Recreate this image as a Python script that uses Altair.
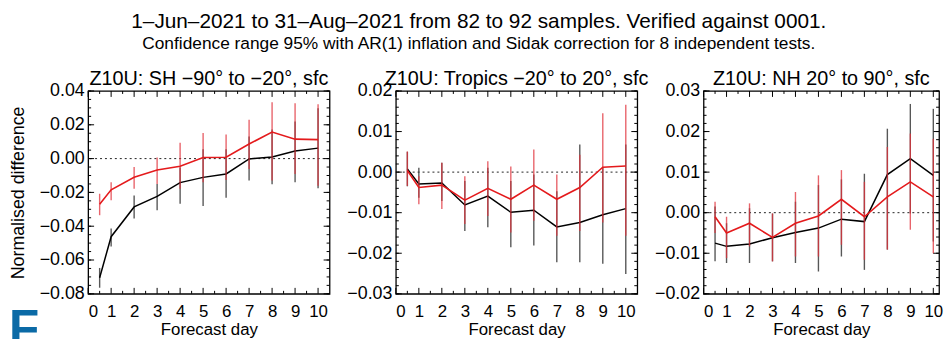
import altair as alt
import pandas as pd

FONT = "Liberation Sans"

main_title = "1–Jun–2021 to 31–Aug–2021 from 82 to 92 samples. Verified against 0001."
sub_title = "Confidence range 95% with AR(1) inflation and Sidak correction for 8 independent tests."

days = [0.5, 1, 2, 3, 4, 5, 6, 7, 8, 9, 10]

# SH panel
sh_red = [-0.027, -0.0185, -0.0111, -0.0068, -0.0045, 0.0006, 0.0008, 0.0086, 0.0157, 0.0115, 0.0112]
sh_red_hi = [-0.0208, -0.014, -0.0049, 0.0006, 0.0094, 0.0152, 0.0143, 0.023, 0.0333, 0.0327, 0.0322]
sh_red_lo = [-0.0335, -0.0247, -0.0179, -0.015, -0.0179, -0.014, -0.0126, -0.0062, -0.013, -0.0091, -0.016]
sh_blk = [-0.0705, -0.0462, -0.0286, -0.0224, -0.0142, -0.0111, -0.0091, -0.0002, 0.001, 0.0045, 0.0062]
sh_blk_hi = [-0.0647, -0.0413, -0.0218, -0.015, -0.0053, 0.0055, 0.0055, 0.013, 0.0172, 0.022, 0.0298]
sh_blk_lo = [-0.0764, -0.052, -0.0354, -0.0306, -0.0267, -0.028, -0.0232, -0.013, -0.0152, -0.014, -0.0175]

# Tropics panel
tr_red = [0.0004, -0.0038, -0.0032, -0.0069, -0.004, -0.0067, -0.0032, -0.0067, -0.0038, 0.0012, 0.0015]
tr_red_hi = [0.0051, -0.001, 0.0023, -0.001, 0.0027, 0.0014, 0.0056, -0.0006, 0.0043, 0.0145, 0.0166]
tr_red_lo = [-0.0034, -0.0079, -0.0091, -0.0128, -0.0108, -0.0149, -0.012, -0.0157, -0.0145, -0.0124, -0.0157]
tr_blk = [0.0008, -0.0029, -0.0027, -0.0081, -0.0059, -0.0099, -0.0094, -0.0135, -0.0124, -0.0105, -0.009]
tr_blk_hi = [0.005, 0.0011, 0.0023, -0.0022, 0.0011, -0.0022, -0.0006, -0.0047, 0.0068, 0.0011, 0.0068]
tr_blk_lo = [-0.0035, -0.0063, -0.0071, -0.0145, -0.0136, -0.0185, -0.0181, -0.0222, -0.0222, -0.0226, -0.0251]

# NH panel
nh_red = [-0.001, -0.005, -0.0026, -0.0061, -0.0026, -0.0008, 0.0033, -0.001, 0.0039, 0.0076, 0.0039]
nh_red_hi = [0.0027, -0.001, 0.0023, -0.0002, 0.0051, 0.0092, 0.0105, 0.0076, 0.0162, 0.0195, 0.0182]
nh_red_lo = [-0.005, -0.0112, -0.0083, -0.012, -0.0108, -0.0108, -0.0079, -0.0116, -0.0091, -0.0042, -0.01]
nh_blk = [-0.0075, -0.0083, -0.0077, -0.0062, -0.0049, -0.0038, -0.0016, -0.0022, 0.0094, 0.0133, 0.0092]
nh_blk_hi = [0.0015, -0.0026, 0.0011, -0.0002, 0.0027, 0.0068, 0.0082, 0.0096, 0.0207, 0.0268, 0.0256]
nh_blk_lo = [-0.012, -0.0124, -0.0124, -0.012, -0.0124, -0.0145, -0.0108, -0.0141, -0.0091, -0.0002, -0.0071]

x_major = [0, 1, 2, 3, 4, 5, 6, 7, 8, 9, 10]
x_minor = [0.5, 1.5, 2.5, 3.5, 4.5, 5.5, 6.5, 7.5, 8.5, 9.5]

sh_y_major = [-0.08, -0.06, -0.04, -0.02, 0.0, 0.02, 0.04]
tr_y_major = [-0.03, -0.02, -0.01, 0.0, 0.01, 0.02]
nh_y_major = [-0.02, -0.01, 0.0, 0.01, 0.02, 0.03]

HEIGHT = 205


def panel(title, red, rlo, rhi, blk, blo, bhi, ymajor, yminor_step, xmax, width, ytitle):
    df = pd.DataFrame({"day": days, "red": red, "rlo": rlo, "rhi": rhi,
                       "blk": blk, "blo": blo, "bhi": bhi})
    ydom = [ymajor[0], ymajor[-1]]
    xs = alt.Scale(domain=[0, xmax], nice=False, zero=False)
    ys = alt.Scale(domain=ydom, nice=False, zero=False)
    xaxis = alt.Axis(values=x_major, format="d", title="Forecast day")
    yaxis = alt.Axis(values=ymajor, format=".2f", title=ytitle)

    X = alt.X("day:Q", scale=xs, axis=xaxis)
    base = alt.Chart(df)

    blk_bars = base.mark_rule(color="#3a3a3a", strokeWidth=1.4, opacity=0.85).encode(
        x=X, y=alt.Y("blo:Q", scale=ys, axis=yaxis), y2="bhi:Q")
    blk_line = base.mark_line(color="#000000", strokeWidth=1.5).encode(
        x=X, y=alt.Y("blk:Q", scale=ys, axis=yaxis))
    red_bars = base.mark_rule(color="#e0303a", strokeWidth=1.4, opacity=0.75).encode(
        x=X, y=alt.Y("rlo:Q", scale=ys, axis=yaxis), y2="rhi:Q")
    red_line = base.mark_line(color="#e41a1c", strokeWidth=1.6).encode(
        x=X, y=alt.Y("red:Q", scale=ys, axis=yaxis))

    zero = alt.Chart(pd.DataFrame({"z": [0.0]})).mark_rule(
        color="#222222", strokeDash=[2, 3], strokeWidth=1).encode(
        y=alt.Y("z:Q", scale=ys, axis=yaxis))

    # inward tick marks (IDL style)
    xmaj = pd.DataFrame({"day": [v for v in x_major if v <= xmax]})
    xmin = pd.DataFrame({"day": [v for v in x_minor if v <= xmax]})
    n = int(round((ydom[1] - ydom[0]) / yminor_step))
    ymin_vals = [round(ydom[0] + i * yminor_step, 4) for i in range(n + 1)]
    ymaj = pd.DataFrame({"val": ymajor})
    ymin = pd.DataFrame({"val": ymin_vals})

    tick_layers = []
    for d, size in ((xmaj, 6), (xmin, 3)):
        c = alt.Chart(d).mark_rule(color="#000", strokeWidth=1)
        tick_layers.append(c.encode(x=X, y=alt.value(HEIGHT), y2=alt.value(HEIGHT - size)))
        tick_layers.append(c.encode(x=X, y=alt.value(0), y2=alt.value(size)))
    for d, size in ((ymaj, 6), (ymin, 3)):
        c = alt.Chart(d).mark_rule(color="#000", strokeWidth=1)
        Y = alt.Y("val:Q", scale=ys, axis=yaxis)
        tick_layers.append(c.encode(y=Y, x=alt.value(0), x2=alt.value(size)))
        tick_layers.append(c.encode(y=Y, x=alt.value(width), x2=alt.value(width - size)))

    layers = [zero] + tick_layers + [blk_bars, blk_line, red_bars, red_line]
    return alt.layer(*layers).properties(
        width=width, height=HEIGHT,
        title=alt.TitleParams(title, fontSize=20, font=FONT, fontWeight="normal",
                              anchor="middle", offset=-7, color="#000"))


p1 = panel("Z10U: SH −90° to −20°, sfc", sh_red, sh_red_lo, sh_red_hi,
           sh_blk, sh_blk_lo, sh_blk_hi, sh_y_major, 0.005, 10.5, 244, "Normalised difference")
logo = alt.Chart(pd.DataFrame({"t": ["F"]})).mark_text(
    font=FONT, fontWeight="bold", fontSize=50, color="#0b6aa6",
    align="left", baseline="top").encode(text="t:N", x=alt.value(-80), y=alt.value(217))
p1 = alt.layer(p1, logo)

p2 = panel("Z10U: Tropics −20° to 20°, sfc", tr_red, tr_red_lo, tr_red_hi,
           tr_blk, tr_blk_lo, tr_blk_hi, tr_y_major, 0.002, 10.5, 244, None)
p3 = panel("Z10U: NH 20° to 90°, sfc", nh_red, nh_red_lo, nh_red_hi,
           nh_blk, nh_blk_lo, nh_blk_hi, nh_y_major, 0.002, 10.25, 238, None)

chart = alt.hconcat(p1, p2, p3, spacing=67, bounds="flush").properties(
    title=alt.TitleParams(main_title, subtitle=sub_title, fontSize=21, subtitleFontSize=17.5,
                          font=FONT, subtitleFont=FONT, fontWeight="normal",
                          anchor="middle", color="#000", subtitleColor="#000",
                          subtitlePadding=4, offset=16, dx=3),
    padding={"left": 0, "top": 0, "right": 0, "bottom": 0},
).configure_view(stroke="#000", strokeWidth=1.3).configure_axis(
    domain=False, ticks=False, grid=False,
    labelFont=FONT, labelFontSize=17, labelColor="#000", labelPadding=10,
    titleFont=FONT, titleFontSize=17, titleColor="#000", titleFontWeight="normal",
    titlePadding=2,
).configure_axisY(labelFontSize=18, labelPadding=4, titlePadding=11.5, titleFontSize=18)

chart.save("out.html", embed_options={"renderer": "svg", "actions": False})
